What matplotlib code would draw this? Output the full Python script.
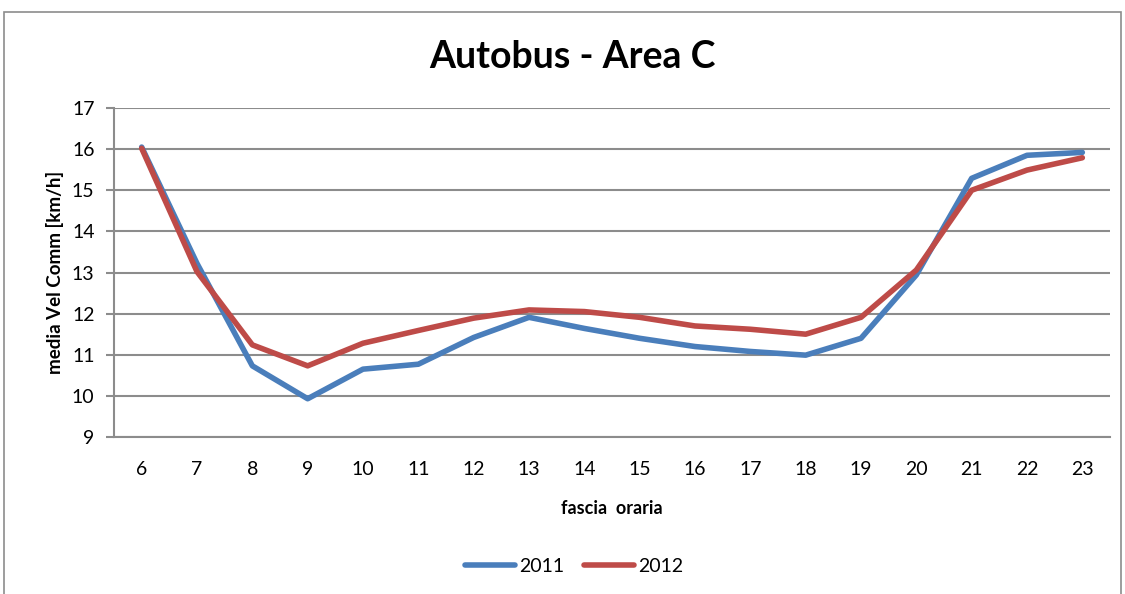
import matplotlib.pyplot as plt
import matplotlib.patches as patches
import numpy as np

plt.rcParams['font.family'] = ['Lato', 'DejaVu Sans']

# dati
ore = [6, 7, 8, 9, 10, 11, 12, 13, 14, 15, 16, 17, 18, 19, 20, 21, 22, 23]
vel_2011 = [16.05, 13.22, 10.73, 9.93, 10.65, 10.77, 11.42, 11.91, 11.64, 11.40,
            11.20, 11.08, 10.99, 11.40, 12.94, 15.29, 15.85, 15.92]
vel_2012 = [16.02, 13.02, 11.24, 10.73, 11.28, 11.59, 11.89, 12.09, 12.05, 11.91,
            11.70, 11.62, 11.50, 11.91, 13.06, 15.00, 15.49, 15.79]

fig = plt.figure(figsize=(11.25, 5.94), dpi=100)
ax = fig.add_axes([114 / 1125, 1 - 437 / 594, 996 / 1125, 329 / 594])

# bordo del grafico
fig.patches.append(patches.Rectangle((4 / 1125, -0.05), 1117 / 1125, 1 - 12 / 594 + 0.05,
                                     transform=fig.transFigure, fill=False,
                                     edgecolor='#8c8c8c', linewidth=1.2))

x = np.arange(len(ore))
ax.plot(x, vel_2011, color='#4a7ebb', linewidth=4, label='2011', solid_capstyle='round')
ax.plot(x, vel_2012, color='#be4b48', linewidth=4, label='2012', solid_capstyle='round')

ax.set_xlim(-0.5, len(ore) - 0.5)
ax.set_ylim(9, 17)
ax.set_yticks(range(9, 18))
ax.set_xticks(x)
ax.set_xticklabels([str(o) for o in ore])
ax.yaxis.grid(True, color='#8c8c8c', linewidth=1.5)
ax.set_axisbelow(True)

for s in ['top', 'right']:
    ax.spines[s].set_visible(False)
for s in ['left', 'bottom']:
    ax.spines[s].set_color('#8c8c8c')
    ax.spines[s].set_linewidth(1.5)

ax.tick_params(axis='y', length=6, color='#8c8c8c', width=1.5, labelsize=14, pad=8)
ax.tick_params(axis='x', length=0, labelsize=14, pad=17)

ax.set_xlabel('fascia  oraria', fontsize=13, fontweight='bold', labelpad=16)
ax.set_ylabel('media Vel Comm [km/h]', fontsize=13.5, fontweight='bold', labelpad=6)

fig.text(572 / 1125, 1 - 57 / 594, 'Autobus - Area C', ha='center', va='center',
         fontsize=27, fontweight='bold')

fig.legend(loc='center', bbox_to_anchor=(574 / 1125, 1 - 566 / 594), ncol=2,
           frameon=False, fontsize=14, handlelength=2.6, columnspacing=1.0,
           handletextpad=0.2)

fig.savefig('out.png', dpi=100)
